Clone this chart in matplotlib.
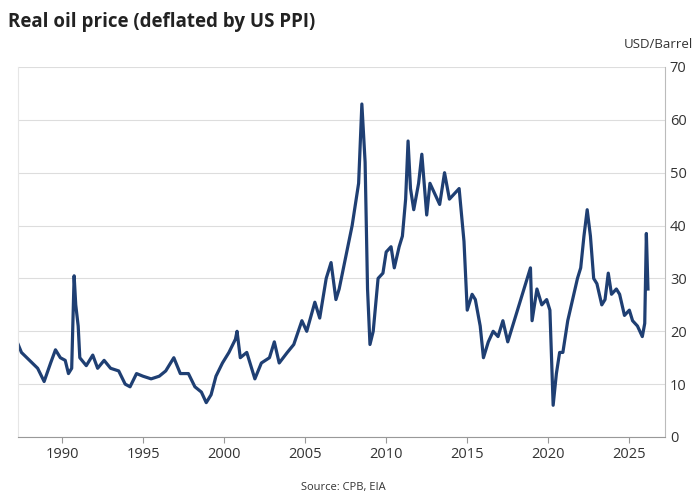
import matplotlib
matplotlib.use("Agg")
import matplotlib.pyplot as plt

plt.rcParams["font.family"] = ["Open Sans", "DejaVu Sans"]

years = [1987.3, 1987.5, 1988.0, 1988.5, 1988.9, 1989.3, 1989.6, 1989.9, 1990.2, 1990.4,
         1990.6, 1990.75, 1990.85, 1991.0, 1991.1, 1991.5, 1991.9, 1992.2, 1992.6, 1993.0,
         1993.5, 1993.9, 1994.2, 1994.6, 1995.0, 1995.5, 1996.0, 1996.4, 1996.9, 1997.3,
         1997.8, 1998.2, 1998.6, 1998.9, 1999.2, 1999.5, 1999.9, 2000.3, 2000.7, 2000.8,
         2001.0, 2001.4, 2001.9, 2002.3, 2002.8, 2003.1, 2003.4, 2003.9, 2004.3, 2004.8,
         2005.1, 2005.6, 2005.9, 2006.3, 2006.6, 2006.9, 2007.1, 2007.5, 2007.9, 2008.1,
         2008.3, 2008.5, 2008.7, 2008.85, 2009.0, 2009.2, 2009.5, 2009.8, 2010.0, 2010.3,
         2010.5, 2010.8, 2011.0, 2011.2, 2011.35, 2011.5, 2011.7, 2012.0, 2012.2, 2012.5,
         2012.7, 2013.0, 2013.3, 2013.6, 2013.9, 2014.2, 2014.5, 2014.8, 2015.0, 2015.3,
         2015.5, 2015.8, 2016.0, 2016.3, 2016.6, 2016.9, 2017.2, 2017.5, 2017.9, 2018.3,
         2018.7, 2018.9, 2019.0, 2019.3, 2019.6, 2019.9, 2020.1, 2020.3, 2020.5, 2020.7,
         2020.9, 2021.2, 2021.5, 2021.8, 2022.0, 2022.2, 2022.4, 2022.6, 2022.8, 2023.0,
         2023.3, 2023.5, 2023.7, 2023.9, 2024.2, 2024.4, 2024.7, 2025.0, 2025.2, 2025.5,
         2025.8, 2025.95, 2026.05, 2026.15]
price = [17.5, 16, 14.5, 13, 10.5, 14, 16.5, 15, 14.5, 12,
         13, 30.5, 25, 21, 15, 13.5, 15.5, 13, 14.5, 13,
         12.5, 10, 9.5, 12, 11.5, 11, 11.5, 12.5, 15, 12,
         12, 9.5, 8.5, 6.5, 8, 11.5, 14, 16, 18.5, 20,
         15, 16, 11, 14, 15, 18, 14, 16, 17.5, 22,
         20, 25.5, 22.5, 30, 33, 26, 28, 34, 40, 44,
         48, 63, 52, 28, 17.5, 20, 30, 31, 35, 36,
         32, 36, 38, 45, 56, 47, 43, 48, 53.5, 42,
         48, 46, 44, 50, 45, 46, 47, 37, 24, 27,
         26, 21, 15, 18, 20, 19, 22, 18, 22, 26,
         30, 32, 22, 28, 25, 26, 24, 6, 12, 16,
         16, 22, 26, 30, 32, 38, 43, 38, 30, 29,
         25, 26, 31, 27, 28, 27, 23, 24, 22, 21,
         19, 21.5, 38.5, 28]

fig = plt.figure(figsize=(7, 5), dpi=100)
ax = fig.add_axes([0.026, 0.126, 0.924, 0.74])
ax.plot(years, price, color="#1f3f73", lw=2.3, solid_joinstyle="round")
ax.set_xlim(1987.3, 2027.2)
ax.set_ylim(0, 70)
ax.set_yticks(range(0, 71, 10))
ax.set_xticks(range(1990, 2026, 5))
ax.yaxis.tick_right()
ax.grid(axis="y", color="#dddddd", lw=0.8)
ax.set_axisbelow(True)
ax.tick_params(labelsize=10.5, colors="#333333", length=0)
ax.tick_params(axis="x", length=4, color="#999999")
ax.spines["top"].set_visible(False)
ax.spines["left"].set_color("#e6e6e6")
ax.spines["right"].set_color("#bbbbbb")
ax.spines["bottom"].set_color("#999999")

fig.text(0.012, 0.955, "Real oil price (deflated by US PPI)", fontsize=13.5, fontweight="bold",
         color="#222222", va="center")
fig.text(0.99, 0.91, "USD/Barrel", fontsize=9.5, color="#333333", ha="right", va="center")
fig.text(0.49, 0.02, "Source: CPB, EIA", fontsize=8, color="#333333", ha="center")
fig.savefig("out.png")
